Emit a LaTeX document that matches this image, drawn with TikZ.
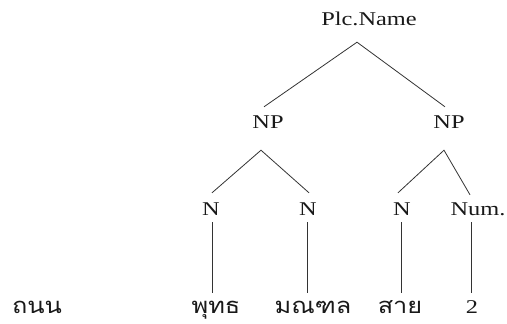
\documentclass[tikz,border=0pt]{standalone}
\usepackage{fontspec}
\setmainfont{Liberation Serif}[FakeStretch=1.25]
\newfontfamily\thaifont[Script=Thai,FakeStretch=1.15]{Loma}
\usetikzlibrary{calc}
\begin{document}
\begin{tikzpicture}[x=1pt,y=-1pt,
  lab/.style={inner sep=0pt,text height=13pt,text depth=0pt,font=\fontsize{19.5}{20}\selectfont,text=black!90},
  word/.style={inner sep=0pt,anchor=base,font=\thaifont\fontsize{22}{24}\selectfont,text=black!90},
  edge/.style={draw=black!80,line width=0.8pt}]
\useasboundingbox (0,0) rectangle (507,324);
\node[lab] (top) at (369,18.5) {Plc.Name};
\node[lab] (np1) at (268,122) {NP};
\node[lab] (np2) at (449,122) {NP};
\node[lab] (n1) at (211,209) {N};
\node[lab] (n2) at (308,209) {N};
\node[lab] (n3) at (402,209) {N};
\node[lab] (num) at (478,209) {Num.};
\node[word] (w0) at (37,313) {ถนน};
\node[word] (w1) at (216,313) {พุทธ};
\node[word] (w2) at (313,313) {มณฑล};
\node[word] (w3) at (400,313) {สาย};
\node[word,font=\fontsize{19.5}{20}\selectfont] (w4) at (472,313) {2};
% top level
\draw[edge] ([xshift=-4pt,yshift=8.5pt]np1.north) -- ([xshift=-12pt,yshift=-17pt]top.south) -- ([xshift=-4pt,yshift=8.5pt]np2.north);
% NP left
\draw[edge] ([xshift=1pt,yshift=9.5pt]n1.north) -- ([xshift=-7pt,yshift=-21.5pt]np1.south) -- ([xshift=1pt,yshift=9.5pt]n2.north);
% NP right
\draw[edge] ([xshift=-4pt,yshift=9.5pt]n3.north) -- ([xshift=-5pt,yshift=-21.5pt]np2.south) -- ([xshift=-8pt,yshift=7.5pt]num.north);
% verticals
\draw[edge] ([xshift=1pt,yshift=-6.5pt]n1.south) -- ($(n1.south |- w1.base)+(1,-20)$);
\draw[edge] ([xshift=-1pt,yshift=-6.5pt]n2.south) -- ($(n2.south |- w2.base)+(-1,-20)$);
\draw[edge] ([xshift=-1pt,yshift=-6.5pt]n3.south) -- ($(n3.south |- w3.base)+(-1,-20)$);
\draw[edge] ([xshift=-7pt,yshift=-6.5pt]num.south) -- ($(num.south |- w4.base)+(-7,-20)$);
\end{tikzpicture}
\end{document}
